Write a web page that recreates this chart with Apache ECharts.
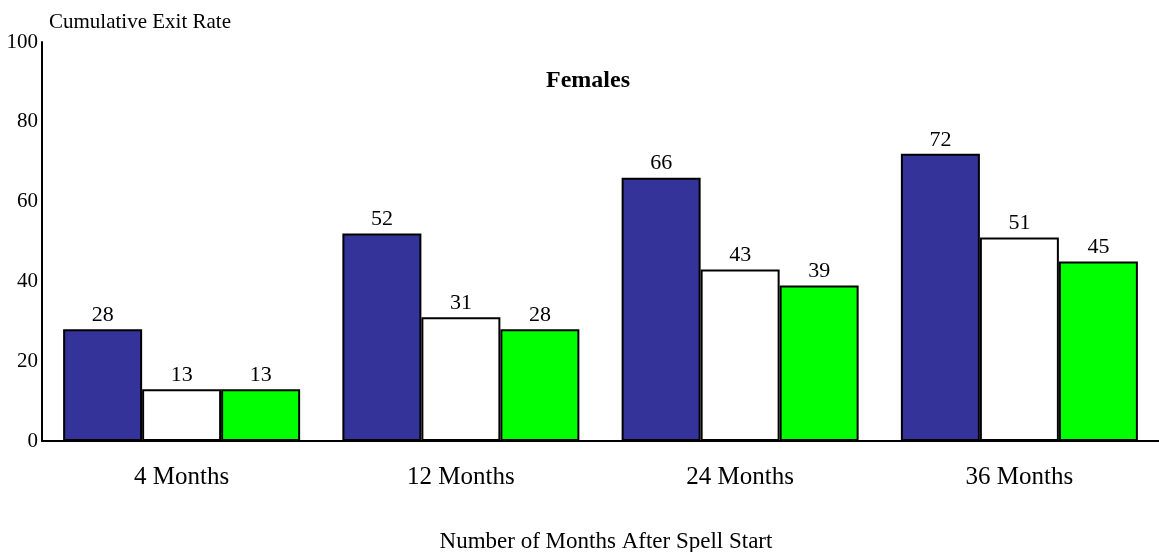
<!DOCTYPE html>
<html>
<head>
<meta charset="utf-8">
<script src="https://cdn.jsdelivr.net/npm/echarts@6/dist/echarts.min.js"></script>
<style>
  html, body { margin: 0; padding: 0; background: #fff; }
  #chart { width: 1159px; height: 552px; }
</style>
</head>
<body>
<div id="chart"></div>
<script>
// Cumulative exit rates for females, by months after spell start
const categories = ['4 Months', '12 Months', '24 Months', '36 Months'];
const seriesA = [28, 52, 66, 72];
const seriesB = [13, 31, 43, 51];
const seriesC = [13, 28, 39, 45];
const yTicks = { min: 0, max: 100, interval: 20 };

const FONT = '"Liberation Serif", "Times New Roman", serif';

function barSeries(name, data, color) {
  return {
    name: name,
    type: 'bar',
    data: data,
    barWidth: 79,
    barGap: '0%',
    itemStyle: { color: color, borderColor: '#000', borderWidth: 2 },
    label: {
      show: true,
      position: 'top',
      distance: 3,
      color: '#000',
      fontFamily: FONT,
      fontSize: 22
    }
  };
}

const chart = echarts.init(document.getElementById('chart'), null, { renderer: 'canvas' });
chart.setOption({
  animation: false,
  backgroundColor: '#fff',
  title: [
    {
      text: 'Females',
      left: 583,
      top: 64,
      textAlign: 'center',
      textStyle: { fontFamily: FONT, fontSize: 24, fontWeight: 'bold', color: '#000' }
    },
    {
      text: 'Cumulative Exit Rate',
      left: 44,
      top: 7,
      textStyle: { fontFamily: FONT, fontSize: 21, fontWeight: 'normal', color: '#000' }
    },
    {
      text: 'Number of Months After Spell Start',
      left: 601,
      top: 525,
      textAlign: 'center',
      textStyle: { fontFamily: FONT, fontSize: 23, fontWeight: 'normal', color: '#000' }
    }
  ],
  grid: { left: 42, right: -5, top: 42, bottom: 111, containLabel: false },
  xAxis: {
    type: 'category',
    data: categories,
    axisLine: { lineStyle: { color: '#000', width: 2 } },
    axisTick: { show: false },
    axisLabel: { color: '#000', fontFamily: FONT, fontSize: 25, margin: 24 }
  },
  yAxis: {
    type: 'value',
    min: yTicks.min,
    max: yTicks.max,
    interval: yTicks.interval,
    axisLine: { show: true, lineStyle: { color: '#000', width: 2 } },
    axisTick: { show: false },
    splitLine: { show: false },
    axisLabel: { color: '#000', fontFamily: FONT, fontSize: 21, margin: 4 }
  },
  series: [
    barSeries('A', seriesA, '#333399'),
    barSeries('B', seriesB, '#ffffff'),
    barSeries('C', seriesC, '#00ff00')
  ]
});
</script>
</body>
</html>
